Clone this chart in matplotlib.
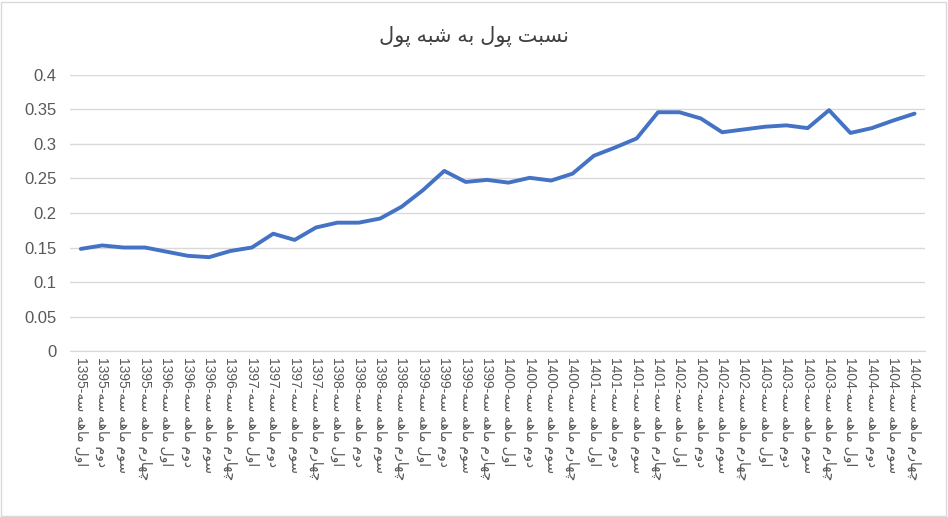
import matplotlib
matplotlib.use("Agg")
import matplotlib.pyplot as plt

years = ["1395", "1396", "1397", "1398", "1399", "1400", "1401", "1402", "1403", "1404"]
quarters = ["اول", "دوم", "سوم", "چهارم"]

ratio = [0.148, 0.153, 0.150, 0.150, 0.144, 0.138, 0.136, 0.145,
         0.150, 0.170, 0.161, 0.179, 0.186, 0.186, 0.192, 0.209,
         0.233, 0.261, 0.245, 0.248, 0.244, 0.251, 0.247, 0.257,
         0.283, 0.295, 0.308, 0.346, 0.346, 0.337, 0.317, 0.321,
         0.325, 0.327, 0.323, 0.349, 0.316, 0.323, 0.334, 0.344]

title = "نسبت پول به شبه پول"

# presentation forms: isolated, final, initial, medial
FORMS = {
    "ا": (0xFE8D, 0xFE8E), "د": (0xFEA9, 0xFEAA), "ر": (0xFEAD, 0xFEAE),
    "و": (0xFEED, 0xFEEE),
    "ب": (0xFE8F, 0xFE90, 0xFE91, 0xFE92), "ت": (0xFE95, 0xFE96, 0xFE97, 0xFE98),
    "ج": (0xFE9D, 0xFE9E, 0xFE9F, 0xFEA0), "س": (0xFEB1, 0xFEB2, 0xFEB3, 0xFEB4),
    "ش": (0xFEB5, 0xFEB6, 0xFEB7, 0xFEB8), "ل": (0xFEDD, 0xFEDE, 0xFEDF, 0xFEE0),
    "م": (0xFEE1, 0xFEE2, 0xFEE3, 0xFEE4), "ن": (0xFEE5, 0xFEE6, 0xFEE7, 0xFEE8),
    "ه": (0xFEE9, 0xFEEA, 0xFEEB, 0xFEEC), "پ": (0xFB56, 0xFB57, 0xFB58, 0xFB59),
    "چ": (0xFB7A, 0xFB7B, 0xFB7C, 0xFB7D),
}


def shape_word(word):
    out = []
    for i, ch in enumerate(word):
        f = FORMS.get(ch)
        if f is None:
            out.append(ch)
            continue
        prev = word[i - 1] if i > 0 else None
        nxt = word[i + 1] if i + 1 < len(word) else None
        jp = prev in FORMS and len(FORMS[prev]) == 4
        jn = len(f) == 4 and nxt in FORMS
        if jp and jn:
            out.append(chr(f[3]))
        elif jp:
            out.append(chr(f[1]))
        elif jn:
            out.append(chr(f[2]))
        else:
            out.append(chr(f[0]))
    return "".join(out)[::-1]


def rtl(text):
    return " ".join(shape_word(w) for w in text.split(" ")[::-1])


labels = [f"{y}-" + " ".join(shape_word(w) for w in f"سه ماهه {q}".split(" "))
          for y in years for q in quarters]

plt.rcParams["font.family"] = ["Liberation Sans", "DejaVu Sans"]

fig = plt.figure(figsize=(9.48, 5.17), dpi=100)
ax = fig.add_axes([0.074, 0.321, 0.902, 0.534])

x = list(range(len(ratio)))
ax.plot(x, ratio, color="#4472C4", linewidth=2.8, solid_capstyle="round")

ax.set_ylim(0, 0.4)
ax.set_yticks([i * 0.05 for i in range(9)])
ax.set_yticklabels(["0", "0.05", "0.1", "0.15", "0.2", "0.25", "0.3", "0.35", "0.4"])
ax.set_xlim(-0.5, len(ratio) - 0.5)
ax.set_xticks(x)
ax.set_xticklabels(labels, rotation=-90, fontsize=10, color="#595959")
ax.tick_params(axis="y", labelsize=12, colors="#595959", length=0, pad=10)
ax.tick_params(axis="x", length=0, pad=4)
ax.grid(axis="y", color="#D9D9D9", linewidth=1)
ax.set_axisbelow(True)
for s in ["top", "right", "left"]:
    ax.spines[s].set_visible(False)
ax.spines["bottom"].set_color("#D9D9D9")

fig.text(0.5, 0.93, rtl(title), ha="center", va="center",
         fontsize=15, color="#404040")
fig.patches.append(plt.Rectangle((0.001, 0.002), 0.997, 0.995, transform=fig.transFigure,
                                 fill=False, edgecolor="#D9D9D9", linewidth=1))

fig.savefig("out.png", dpi=100)
